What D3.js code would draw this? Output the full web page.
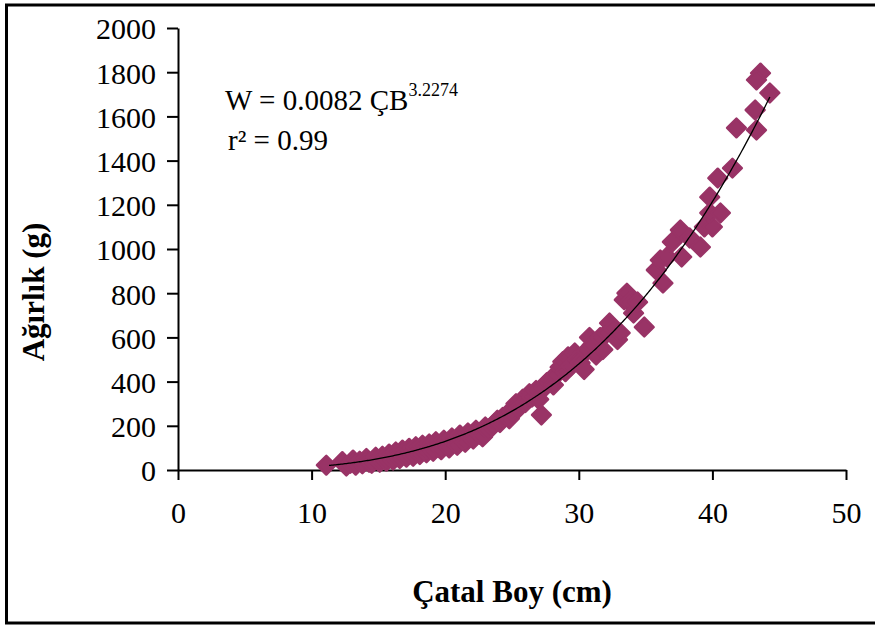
<!DOCTYPE html>
<html lang="tr">

<head>
    <meta charset="utf-8" />
    <title>Çatal Boy - Ağırlık</title>
    <script src="https://d3js.org/d3.v7.min.js"></script>
    <style>
        body {
            margin: 0;
            background: #fff;
        }

        text {
            font-family: "Liberation Serif", "Times New Roman", serif;
            fill: #000;
        }

        .axis path,
        .axis line {
            stroke: #000;
            stroke-width: 2px;
        }

        .axis text {
            font-size: 30px;
        }

        .title {
            font-size: 31px;
            font-weight: bold;
        }
    </style>
</head>

<body>
    <script>
        // fork length (cm) and weight (g)
        const lengths = [
            11.1, 12.3, 12.6, 12.9, 13.1, 13.3, 13.6, 13.8, 14.1, 14.3,
            14.5, 14.8, 15.0, 15.1, 15.3, 15.5, 15.6, 15.8, 16.0, 16.1,
            16.3, 16.5, 16.6, 16.8, 17.0, 17.1, 17.3, 17.5, 17.6, 17.8,
            18.0, 18.1, 18.3, 18.5, 18.6, 18.8, 19.0, 19.1, 19.3, 19.5,
            19.7, 19.9, 20.1, 20.3, 20.5, 20.7, 20.9, 21.1, 21.3, 21.5,
            21.7, 21.9, 22.1, 22.3, 22.6, 22.8, 23.0, 23.2, 23.5, 23.7,
            23.9, 24.1, 24.3, 24.6, 24.8, 25.0, 25.3, 25.5, 25.8, 26.0,
            26.3, 26.5, 26.8, 27.0, 27.2, 27.4, 27.6, 27.9, 28.1, 28.3,
            28.6, 28.8, 29.0, 29.2, 29.4, 29.7, 29.9, 30.1, 30.4, 30.6,
            30.8, 31.0, 31.3, 31.6, 31.8, 32.1, 32.3, 32.6, 32.9, 33.1,
            33.4, 33.6, 33.8, 34.1, 34.4, 34.9, 35.8, 36.1, 36.3, 36.6,
            37.0, 37.6, 37.7, 38.3, 39.1, 39.4, 40.0, 39.8, 40.6, 39.8,
            40.4, 41.5, 41.8, 43.3, 43.2, 43.6, 43.3, 44.3
        ];
        const weights = [
            22, 38, 18, 30, 45, 22, 40, 28, 52, 35,
            30, 58, 42, 35, 62, 48, 40, 72, 55, 45,
            82, 60, 52, 90, 68, 58, 98, 75, 62, 105,
            82, 70, 112, 88, 78, 118, 95, 85, 128, 102,
            92, 135, 112, 100, 145, 125, 112, 158, 138, 125,
            168, 150, 140, 180, 162, 150, 195, 178, 198, 210,
            225, 215, 238, 250, 232, 265, 300, 280, 320, 305,
            345, 330, 360, 320, 249, 372, 395, 410, 385, 430,
            465, 490, 445, 512, 470, 530, 500, 485, 455, 540,
            600, 565, 520, 600, 545, 620, 665, 640, 590, 620,
            770, 800, 760, 710, 760, 647, 905, 950, 846, 964,
            1032, 1086, 964, 1050, 1009, 1100, 1100, 1163, 1163, 1235,
            1321, 1366, 1548, 1538, 1629, 1796, 1765, 1706
        ];

        // power fit shown in the chart
        const fitA = 0.0082;
        const fitB = 3.2274;

        const xTicks = [0, 10, 20, 30, 40, 50];
        const yTicks = [0, 200, 400, 600, 800, 1000, 1200, 1400, 1600, 1800, 2000];

        const margin = { top: 28, left: 178, right: 29, bottom: 156 };
        const width = 875 - margin.left - margin.right;
        const height = 626 - margin.top - margin.bottom;

        const svg = d3
            .select("body")
            .append("svg")
            .attr("width", 875)
            .attr("height", 626);

        // outer frame
        svg.append("rect")
            .attr("x", 6.5)
            .attr("y", 5)
            .attr("width", 880)
            .attr("height", 618)
            .attr("fill", "none")
            .attr("stroke", "#000")
            .attr("stroke-width", 3);

        const g = svg.append("g").attr("transform", `translate(${margin.left},${margin.top})`);

        const xscale = d3.scaleLinear().domain([0, 50]).range([0, width]);
        const yscale = d3.scaleLinear().domain([0, 2000]).range([height, 0]);

        // axes
        g.append("g")
            .attr("class", "y axis")
            .call(d3.axisLeft(yscale).tickValues(yTicks).tickFormat(d3.format("d"))
                .tickSize(11).tickSizeOuter(0).tickPadding(11))
            .call((a) => a.selectAll("text").attr("dy", "0.36em"));

        g.append("g")
            .attr("class", "x axis")
            .attr("transform", `translate(0,${height})`)
            .call(d3.axisBottom(xscale).tickValues(xTicks).tickFormat(d3.format("d"))
                .tickSize(10).tickSizeOuter(0).tickPadding(22));

        // points
        const points = lengths.map((l, i) => ({ l: l, w: weights[i] }));
        const marker = d3.symbol().type(d3.symbolSquare).size(175);

        g.selectAll("path.pt")
            .data(points)
            .join("path")
            .attr("class", "pt")
            .attr("d", marker)
            .attr("transform", (d) => `translate(${xscale(d.l)},${yscale(d.w)}) rotate(45)`)
            .attr("fill", "#993366")
            .attr("stroke", "#993366")
            .attr("stroke-width", 2.5)
            .attr("stroke-linejoin", "round");

        // trend line
        const fitX = d3.range(11.3, 44.31, 0.1);
        const line = d3.line()
            .x((d) => xscale(d))
            .y((d) => yscale(fitA * Math.pow(d, fitB)));

        g.append("path")
            .datum(fitX)
            .attr("d", line)
            .attr("fill", "none")
            .attr("stroke", "#000")
            .attr("stroke-width", 1.3);

        // equation
        const eq = svg.append("text").attr("x", 225).attr("y", 110).style("font-size", "29px");
        eq.append("tspan").text(`W = ${fitA} ÇB`);
        eq.append("tspan").attr("dy", -14).style("font-size", "18px").text(fitB);

        svg.append("text")
            .attr("x", 228)
            .attr("y", 150)
            .style("font-size", "29px")
            .text("r² = 0.99");

        // axis titles
        svg.append("text")
            .attr("class", "title")
            .attr("text-anchor", "middle")
            .attr("transform", "translate(44,292) rotate(-90)")
            .text("Ağırlık (g)");

        svg.append("text")
            .attr("class", "title")
            .attr("text-anchor", "middle")
            .attr("x", margin.left + width / 2)
            .attr("y", 602)
            .text("Çatal Boy (cm)");
    </script>
</body>

</html>
